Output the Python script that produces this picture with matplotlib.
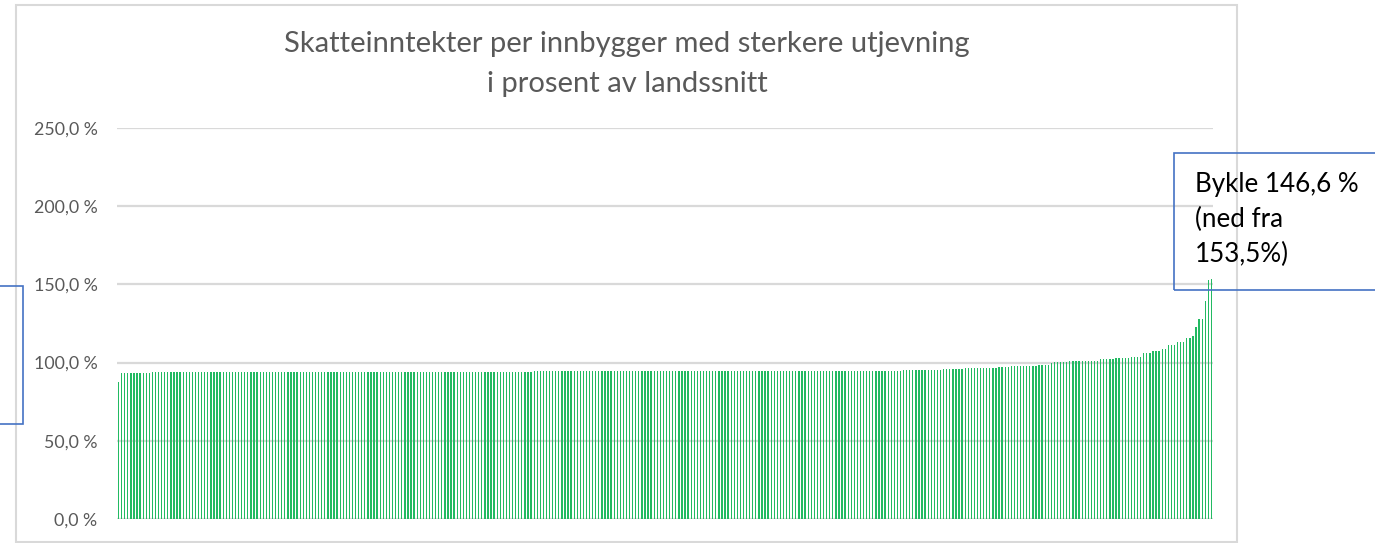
import matplotlib
matplotlib.use("Agg")
import matplotlib.pyplot as plt
from matplotlib.patches import Rectangle

# Tax income per inhabitant (% of national average), sorted ascending, 356 municipalities
values = [
    87.6,
    93.1, 93.1, 93.1, 93.1, 93.1, 93.1, 93.1, 93.1, 93.1, 93.1,
    # 124 bars ~93.9
    93.9, 93.9, 93.9, 93.9, 93.9, 93.9, 93.9, 93.9, 93.9, 93.9,
    93.9, 93.9, 93.9, 93.9, 93.9, 93.9, 93.9, 93.9, 93.9, 93.9,
    93.9, 93.9, 93.9, 93.9, 93.9, 93.9, 93.9, 93.9, 93.9, 93.9,
    93.9, 93.9, 93.9, 93.9, 93.9, 93.9, 93.9, 93.9, 93.9, 93.9,
    93.9, 93.9, 93.9, 93.9, 93.9, 93.9, 93.9, 93.9, 93.9, 93.9,
    93.9, 93.9, 93.9, 93.9, 93.9, 93.9, 93.9, 93.9, 93.9, 93.9,
    93.9, 93.9, 93.9, 93.9, 93.9, 93.9, 93.9, 93.9, 93.9, 93.9,
    93.9, 93.9, 93.9, 93.9, 93.9, 93.9, 93.9, 93.9, 93.9, 93.9,
    93.9, 93.9, 93.9, 93.9, 93.9, 93.9, 93.9, 93.9, 93.9, 93.9,
    93.9, 93.9, 93.9, 93.9, 93.9, 93.9, 93.9, 93.9, 93.9, 93.9,
    93.9, 93.9, 93.9, 93.9, 93.9, 93.9, 93.9, 93.9, 93.9, 93.9,
    93.9, 93.9, 93.9, 93.9, 93.9, 93.9, 93.9, 93.9, 93.9, 93.9,
    93.9, 93.9, 93.9, 93.9,
    # 112 bars ~94.5
    94.5, 94.5, 94.5, 94.5, 94.5, 94.5, 94.5, 94.5, 94.5, 94.5,
    94.5, 94.5, 94.5, 94.5, 94.5, 94.5, 94.5, 94.5, 94.5, 94.5,
    94.5, 94.5, 94.5, 94.5, 94.5, 94.5, 94.5, 94.5, 94.5, 94.5,
    94.5, 94.5, 94.5, 94.5, 94.5, 94.5, 94.5, 94.5, 94.5, 94.5,
    94.5, 94.5, 94.5, 94.5, 94.5, 94.5, 94.5, 94.5, 94.5, 94.5,
    94.5, 94.5, 94.5, 94.5, 94.5, 94.5, 94.5, 94.5, 94.5, 94.5,
    94.5, 94.5, 94.5, 94.5, 94.5, 94.5, 94.5, 94.5, 94.5, 94.5,
    94.5, 94.5, 94.5, 94.5, 94.5, 94.5, 94.5, 94.5, 94.5, 94.5,
    94.5, 94.5, 94.5, 94.5, 94.5, 94.5, 94.5, 94.5, 94.5, 94.5,
    94.5, 94.5, 94.5, 94.5, 94.5, 94.5, 94.5, 94.5, 94.5, 94.5,
    94.5, 94.5, 94.5, 94.5, 94.5, 94.5, 94.5, 94.5, 94.5, 94.5,
    94.5, 94.5,
    94.7, 94.7, 94.7, 94.7, 94.7, 94.7, 94.7, 94.7,
    95.3, 95.3, 95.3, 95.3, 95.3, 95.3, 95.3, 95.3, 95.3, 95.3, 95.3, 95.3, 95.3,
    95.9, 95.9, 95.9, 95.9, 95.9, 95.9, 95.9,
    96.5, 96.5, 96.5, 96.5, 96.5, 96.5, 96.5, 96.5, 96.5, 96.5, 96.5,
    97.2, 97.2, 97.2, 97.2,
    98.0, 98.0, 98.0, 98.0, 98.0, 98.0, 98.0, 98.0, 98.0,
    98.7, 98.7, 98.7, 98.7, 99.5,
    100.2, 100.2, 100.2, 100.2, 100.2,
    101.0, 101.0, 101.0, 101.0, 101.0, 101.0, 101.0, 101.0, 101.0, 101.0,
    102.1, 102.1, 102.1, 102.1, 102.1,
    102.7, 102.7, 102.7, 102.7, 102.7,
    103.4, 103.4, 103.4, 103.4,
    106.3, 106.3, 106.3,
    107.6, 107.6, 107.6,
    108.5, 108.5,
    111.3, 111.3, 111.3,
    113.4, 113.4, 113.4,
    115.5, 115.5,
    117.0,
    123.0,
    127.9, 127.9,
    139.6,
    152.8,
    153.5,
]
municipalities = list(range(len(values)))

title = "Skatteinntekter per innbygger med sterkere utjevning\ni prosent av landssnitt"
ytick_values = [0, 50, 100, 150, 200, 250]
ytick_labels = ["0,0 %", "50,0 %", "100,0 %", "150,0 %", "200,0 %", "250,0 %"]
annotation_text = "Bykle 146,6 %\n(ned fra\n153,5%)"

W, H = 1375, 543
fig = plt.figure(figsize=(W / 100, H / 100), dpi=100)
font = "Lato"


def fx(x):
    return x / W


def fy(y):
    return 1 - y / H


ax = fig.add_axes([fx(117), fy(519), fx(1213) - fx(117), fy(128) - fy(519)])
ax.bar(municipalities, values, width=0.42, color="#22BA62", linewidth=0, zorder=3)
ax.set_xlim(-0.5, len(values) - 0.5)
ax.set_ylim(0, 250)
ax.set_yticks(ytick_values)
ax.set_yticklabels(ytick_labels, fontname=font, fontsize=12.8, color="#595959")
ax.tick_params(axis="y", length=0, pad=14)
ax.set_xticks([])
for s in ax.spines.values():
    s.set_visible(False)
ax.grid(axis="y", color="#D9D9D9", linewidth=1.6, zorder=0)

# chart frame
fig.add_artist(Rectangle((fx(16), fy(542)), fx(1237) - fx(16), fy(5) - fy(542),
                         transform=fig.transFigure, fill=False, edgecolor="#D9D9D9",
                         linewidth=1.5, zorder=0))

fig.text(fx(627), fy(64), title, ha="center", va="center", fontname=font,
         fontsize=21, color="#595959", linespacing=1.62)

# annotation box (right)
fig.add_artist(Rectangle((fx(1174), fy(290)), fx(1380) - fx(1174), fy(153) - fy(290),
                         transform=fig.transFigure, fill=False, edgecolor="#4472C4",
                         linewidth=1.2, zorder=5, clip_on=False))
fig.text(fx(1195), fy(172), annotation_text, ha="left", va="top", fontname=font,
         fontsize=18.7, color="black", linespacing=1.5)

# annotation box (left, cut off)
fig.add_artist(Rectangle((fx(-50), fy(424)), fx(23) - fx(-50), fy(286) - fy(424),
                         transform=fig.transFigure, fill=False, edgecolor="#4472C4",
                         linewidth=1.2, zorder=5, clip_on=False))

fig.savefig("out.png", dpi=100)
